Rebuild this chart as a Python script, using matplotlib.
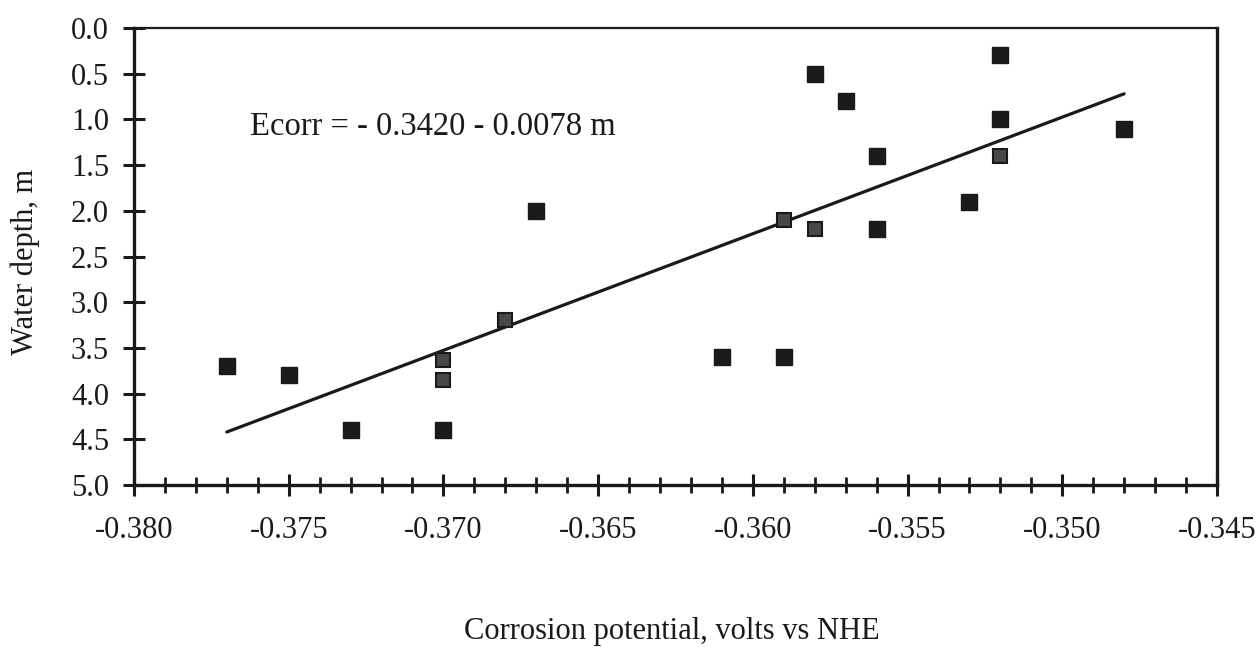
import matplotlib
matplotlib.use("Agg")
import matplotlib.pyplot as plt
from matplotlib.ticker import MultipleLocator, FormatStrFormatter

plt.rcParams['font.family'] = ['Liberation Serif', 'DejaVu Serif']

# solid markers
solid_x = [-0.377, -0.375, -0.373, -0.370, -0.367, -0.361, -0.359, -0.358,
           -0.357, -0.356, -0.356, -0.353, -0.352, -0.352, -0.348]
solid_y = [3.7, 3.8, 4.4, 4.4, 2.0, 3.6, 3.6, 0.5,
           0.8, 1.4, 2.2, 1.9, 0.3, 1.0, 1.1]
# speckled markers
speck_x = [-0.370, -0.370, -0.368, -0.359, -0.358, -0.352]
speck_y = [3.63, 3.85, 3.2, 2.1, 2.2, 1.4]
# regression line endpoints
line_x = [-0.377, -0.348]
line_y = [4.42, 0.72]

equation = "Ecorr = - 0.3420 - 0.0078 m"
xlabel = "Corrosion potential, volts vs NHE"
ylabel = "Water depth, m"

W, H = 1256, 647
fig = plt.figure(figsize=(W / 100, H / 100), dpi=100)
ax = fig.add_axes([134 / W, 1 - 485 / H, (1217 - 134) / W, (485 - 28) / H])

ax.plot(line_x, line_y, color='#1a1a1a', lw=2.3, solid_capstyle='round', zorder=2)
ax.plot(solid_x, solid_y, linestyle='none', marker='s', markersize=11,
        markerfacecolor='#1a1a1a', markeredgecolor='#1a1a1a', zorder=3)
ax.plot(speck_x, speck_y, linestyle='none', marker='s', markersize=9.5,
        markerfacecolor='#484848', markeredgecolor='#1a1a1a', markeredgewidth=1.5, zorder=3)

ax.text(-0.37626, 1.08, equation, fontsize=23.5, ha='left', va='center', color='#1a1a1a')

ax.set_xlim(-0.380, -0.345)
ax.set_ylim(5.0, 0.0)
ax.xaxis.set_major_locator(MultipleLocator(0.005))
ax.xaxis.set_minor_locator(MultipleLocator(0.001))
ax.xaxis.set_major_formatter(FormatStrFormatter('%.3f'))
ax.yaxis.set_major_locator(MultipleLocator(0.5))
ax.yaxis.set_major_formatter(FormatStrFormatter('%.1f'))

ax.tick_params(axis='x', which='major', direction='inout', length=16, width=2.2,
               labelsize=22, pad=14, colors='#1a1a1a')
ax.tick_params(axis='x', which='minor', direction='inout', length=12, width=2.0,
               colors='#1a1a1a')
ax.tick_params(axis='y', which='major', direction='inout', length=16, width=2.2,
               labelsize=22, pad=10, colors='#1a1a1a')

for side in ['left', 'bottom', 'right']:
    ax.spines[side].set_linewidth(2.4)
    ax.spines[side].set_color('#1a1a1a')
ax.spines['top'].set_linewidth(1.6)
ax.spines['top'].set_color('#1a1a1a')

fig.text(672 / W, 1 - 632 / H, xlabel, fontsize=22, ha='center', va='center', color='#1a1a1a')
fig.text(25 / W, 1 - 262 / H, ylabel, fontsize=22, ha='center', va='center',
         rotation=90, color='#1a1a1a')

fig.savefig('out.png', dpi=100)
